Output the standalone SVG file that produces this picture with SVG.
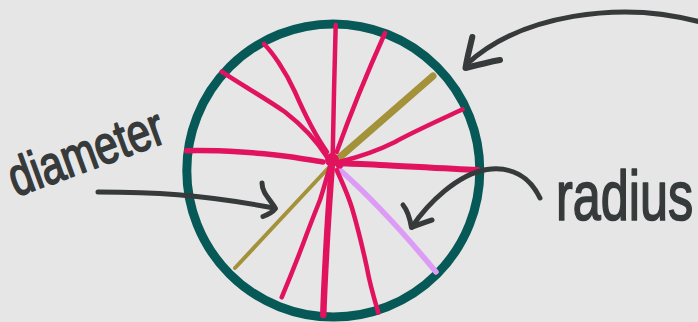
<svg xmlns="http://www.w3.org/2000/svg" width="698" height="322" viewBox="0 0 698 322">
  <style>
    .ring { fill: none; stroke: #065957; stroke-width: 9; }
    .spoke { fill: none; stroke: #e1135f; stroke-linecap: round; stroke-linejoin: round; }
    .olive { fill: none; stroke: #a4923a; stroke-linecap: round; }
    .lilac { fill: none; stroke: #dc9cf6; stroke-linecap: round; }
    .ink { fill: none; stroke: #363a3a; stroke-linecap: round; stroke-linejoin: round; }
    .label { fill: #363a3a; stroke: #363a3a; stroke-width: 1.7; stroke-linejoin: round; font-family: "Liberation Sans", "DejaVu Sans", sans-serif; }
  </style>
  <rect x="0" y="0" width="698" height="322" fill="#e6e6e6"/>

  <g id="circle">
    <circle class="ring" cx="333.3" cy="170.5" r="146.5"/>
  </g>

  <g id="diameter-line">
    <path class="olive" stroke-width="4" d="M333,163 L235,268"/>
    <path class="olive" stroke-width="7" d="M433,76 L340,157"/>
  </g>

  <g id="radius-line">
    <path class="lilac" stroke-width="5.5" d="M340,170 Q385,210 436,272"/>
  </g>

  <g id="spokes">
    <path class="spoke" stroke-width="4.5" d="M335.7,25 C334.5,70 333.5,110 332.7,155"/>
    <path class="spoke" stroke-width="4.5" d="M385,33 C372,62 350,115 336.7,152"/>
    <path class="spoke" stroke-width="4.5" d="M264,44 C272,52 285,70 295,92 C305,115 315,135 327,152"/>
    <path class="spoke" stroke-width="4.5" d="M221.7,71.7 C240,84 265,98 285,112 C303,126 318,143 327,157"/>
    <path class="spoke" stroke-width="5.5" d="M186.7,150.7 C220,150 265,153 290,156.7 C305,159 315,161 323,162"/>
    <path class="spoke" stroke-width="4.5" d="M462.7,109.3 C440,120 415,131 395,142 C375,152 355,158 340,161.7"/>
    <path class="spoke" stroke-width="6" d="M477.7,170 C450,169 410,166.5 380,165 C360,164 348,163.5 340,163.3"/>
    <path class="spoke" stroke-width="4.5" d="M378.3,312.7 C373,295 369,280 366.7,266.7 C362,245 357,225 352,208 C347,192 341,180 336.7,170"/>
    <path class="spoke" stroke-width="6.5" d="M323.3,315 C324,290 325.5,265 326.7,243 C328.5,210 330.5,185 331.7,166.7"/>
    <path class="spoke" stroke-width="4.5" d="M281.7,297.3 C289,280 297,260 303.3,243.3 C310,225 316,210 320,200 C324,188 327,176 330,166.7"/>
    <circle cx="332" cy="160" r="7" fill="#e1135f"/>
    <circle cx="339.5" cy="165" r="3.8" fill="#e1135f"/>
  </g>

  <g id="label-diameter">
    <text class="label" font-size="54" transform="translate(16,197) rotate(-20) scale(0.77,1)" x="0" y="0">diameter</text>
  </g>

  <g id="label-radius">
    <text class="label" font-size="71" transform="translate(556,220) scale(0.71,1)" x="0" y="0">radius</text>
  </g>

  <g id="connectors">
    <g id="arrow-circumference">
      <path class="ink" stroke-width="5" d="M700,22 C620,0 520,15 467,64"/>
      <path class="ink" stroke-width="6" d="M472.3,37 C470,47 467,58 465.5,68 C477,65 489,62 500,60"/>
    </g>
    <g id="arrow-diameter">
      <path class="ink" stroke-width="5" d="M98,192 C150,192 200,194 274,208"/>
      <path class="ink" stroke-width="5" d="M262,183 C262,193 270,199 275.5,208.5 C272,213 267,215 263,216.5"/>
    </g>
    <g id="arrow-radius">
      <path class="ink" stroke-width="5" d="M540,198 C530,177 512,166 487,169.5 C458,174 428,203 412,227"/>
      <path class="ink" stroke-width="5" d="M403,205 C408,211 410,219 411.5,227.5 C418,225 425,222 432,220"/>
    </g>
  </g>
</svg>
